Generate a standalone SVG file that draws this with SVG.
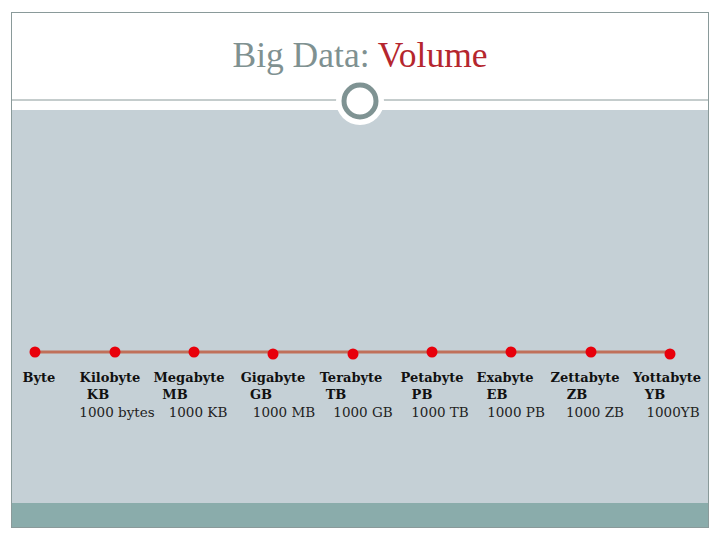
<svg xmlns="http://www.w3.org/2000/svg" width="720" height="540" viewBox="0 0 720 540">
<style>
.b{font-family:"DejaVu Serif","Liberation Serif",serif;font-weight:bold;font-size:13px;fill:#111;text-anchor:middle}
.r{font-family:"DejaVu Serif","Liberation Serif",serif;font-size:13.5px;fill:#222;text-anchor:middle}
.dot{fill:#e8000b}
</style>
<rect x="0" y="0" width="720" height="540" fill="#fff"/>
<rect x="11.5" y="12.5" width="697" height="515" fill="#fff" stroke="#8a9a9a" stroke-width="1"/>
<rect x="12" y="110" width="696" height="393" fill="#c5d0d6"/>
<rect x="12" y="503" width="696" height="24" fill="#8aacab"/>
<line x1="12" y1="100" x2="708" y2="100" stroke="#8a9a9a" stroke-width="1"/>
<text x="360" y="67" text-anchor="middle" font-family="Liberation Serif,DejaVu Serif,serif" font-size="35.5" fill="#7f9191">Big Data: <tspan fill="#b5262e">Volume</tspan></text>
<circle cx="360" cy="101" r="24" fill="#fff"/>
<circle cx="360" cy="101" r="16" fill="#fff" stroke="#7f9393" stroke-width="5"/>
<g id="connectors">
<line x1="35" y1="352" x2="670" y2="352" stroke="#c0705a" stroke-width="3"/>
</g>
<g id="byte"><circle class="dot" cx="35" cy="352" r="5.5"/><text class="b" x="39" y="382">Byte</text></g>
<g id="kb"><circle class="dot" cx="115" cy="352" r="5.5"/><text class="b" x="110" y="382">Kilobyte</text><text class="b" x="98" y="399">KB</text><text class="r" x="117" y="417">1000 bytes</text></g>
<g id="mb"><circle class="dot" cx="194" cy="352" r="5.5"/><text class="b" x="189" y="382">Megabyte</text><text class="b" x="175" y="399">MB</text><text class="r" x="198" y="417">1000 KB</text></g>
<g id="gb"><circle class="dot" cx="273" cy="354" r="5.5"/><text class="b" x="273" y="382">Gigabyte</text><text class="b" x="261" y="399">GB</text><text class="r" x="284" y="417">1000 MB</text></g>
<g id="tb"><circle class="dot" cx="353" cy="354" r="5.5"/><text class="b" x="351" y="382">Terabyte</text><text class="b" x="336" y="399">TB</text><text class="r" x="363" y="417">1000 GB</text></g>
<g id="pb"><circle class="dot" cx="432" cy="352" r="5.5"/><text class="b" x="432" y="382">Petabyte</text><text class="b" x="422" y="399">PB</text><text class="r" x="440" y="417">1000 TB</text></g>
<g id="eb"><circle class="dot" cx="511" cy="352" r="5.5"/><text class="b" x="505" y="382">Exabyte</text><text class="b" x="497" y="399">EB</text><text class="r" x="516" y="417">1000 PB</text></g>
<g id="zb"><circle class="dot" cx="591" cy="352" r="5.5"/><text class="b" x="585" y="382">Zettabyte</text><text class="b" x="577" y="399">ZB</text><text class="r" x="595" y="417">1000 ZB</text></g>
<g id="yb"><circle class="dot" cx="670" cy="354" r="5.5"/><text class="b" x="667" y="382">Yottabyte</text><text class="b" x="655" y="399">YB</text><text class="r" x="673" y="417">1000YB</text></g>
</svg>
